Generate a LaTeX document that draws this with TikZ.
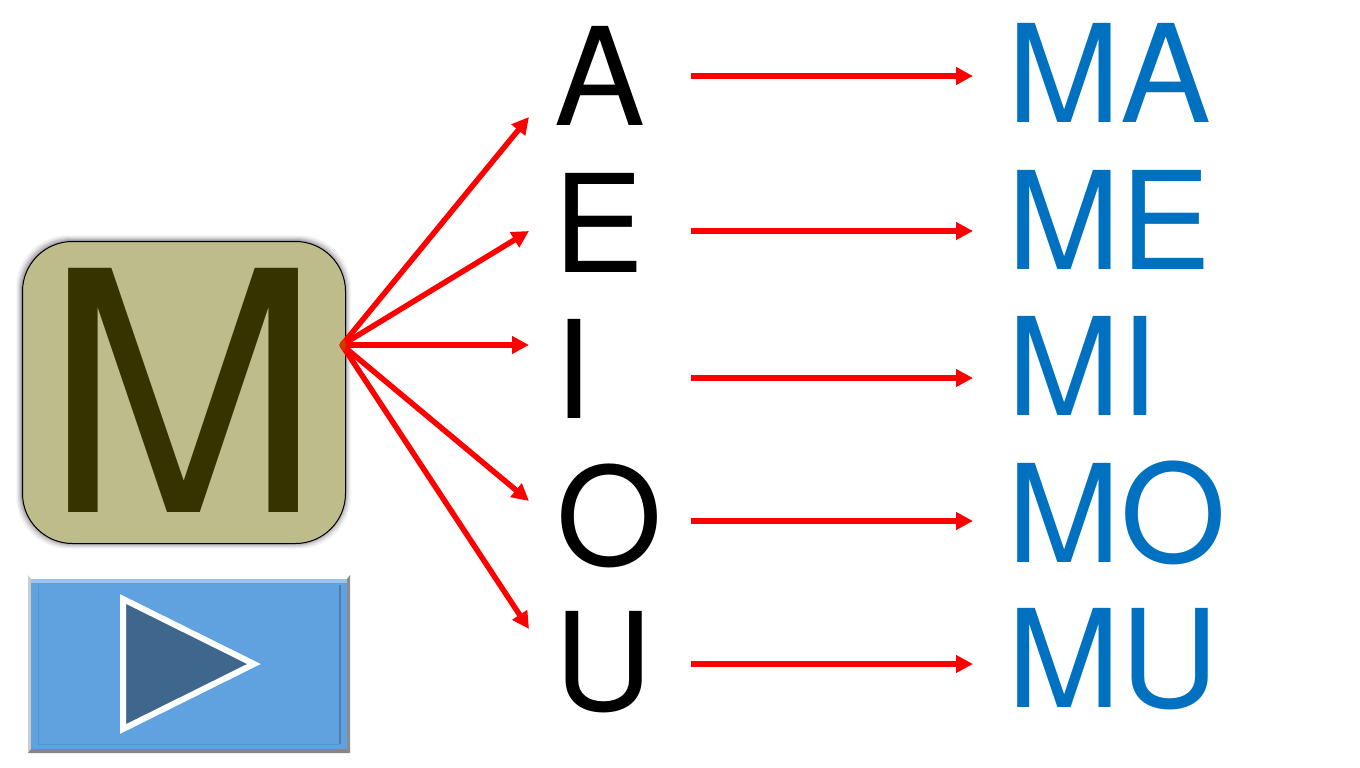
\documentclass[tikz,border=0pt]{standalone}
\usepackage{fontspec}
\setmainfont{TeX Gyre Heros}
\usetikzlibrary{arrows.meta}
\definecolor{boxfill}{HTML}{BDBC8A}
\definecolor{boxtext}{HTML}{363300}
\definecolor{btnfill}{HTML}{60A2E0}
\definecolor{btndark}{HTML}{3F678D}
\definecolor{vowelblue}{HTML}{0070C0}
\definecolor{hubcol}{HTML}{C84000}
\definecolor{shadowcol}{HTML}{302838}
\tikzset{
  x=1pt,y=-1pt,
  txt/.style={anchor=base west,inner sep=0pt,outer sep=0pt},
  vowel/.style={txt,text=black,font=\fontsize{136}{136}\selectfont},
  syll/.style={txt,text=vowelblue,font=\fontsize{136}{136}\selectfont},
  arr/.style={draw=red,line width=5.5pt,-{Triangle[length=17pt,width=17pt]}},
}
\begin{document}
\begin{tikzpicture}
\useasboundingbox (0,0) rectangle (1360,768);
% box shadow
\foreach \d/\o in {6/0.04,5/0.06,4/0.08,3/0.10,2/0.13,1/0.16}{
  \fill[shadowcol,opacity=\o,rounded corners=52pt] (22-\d,241-\d) rectangle (345+\d,543+\d);
}
\node[draw=black,line width=1pt,fill=boxfill,rounded corners=50pt,minimum width=323pt,minimum height=302pt,inner sep=0pt,anchor=north west] (box) at (22,241) {};
\node[txt,text=boxtext,font=\fontsize{335}{335}\selectfont] (bigm) at (43,512) {M};
% button
\fill[white] (28,575) -- (350,575) -- (347,579) -- (31,579) -- cycle;
\fill[gray!40] (28,575) -- (31,579) -- (31,749) -- (28,753) -- cycle;
\fill[gray!90] (350,575) -- (350,753) -- (347,749) -- (347,579) -- cycle;
\fill[gray!95] (28,753) -- (350,753) -- (347,749) -- (31,749) -- cycle;
\fill[btnfill] (31,579) rectangle (347,749);
\fill[white!35!btnfill] (31,579) rectangle (347,583);
\draw[line width=1pt,btndark!25!btnfill] (38,585) -- (38,744) -- (340,744);
\draw[line width=1.5pt,btndark!60!btnfill] (340,744) -- (340,585);
\node[inner sep=0pt,minimum size=0pt] (btn) at (189,664) {};
\draw[draw=white,fill=btndark,line width=6pt,miter limit=10] (123,599) -- (254,664) -- (123,729) -- cycle;
% hub
\coordinate (hub) at (342,345);
% vowels
\node[vowel] (A) at (554,125) {A};
\node[vowel] (E) at (553.5,272) {E};
\node[vowel] (I) at (554,418) {I};
\node[vowel] (O) at (556,565) {O};
\node[vowel] (U) at (554,710) {U};
\node[syll] (MA) at (1007,122) {MA};
\node[syll] (ME) at (1007,269) {ME};
\node[syll] (MI) at (1007,415) {MI};
\node[syll] (MO) at (1007,562) {MO};
\node[syll] (MU) at (1007,707) {MU};
% free ends
\coordinate (a1) at (529,117);
\coordinate (e1) at (529,231);
\coordinate (i1) at (529,345);
\coordinate (o1) at (529,501);
\coordinate (u1) at (529,629);
\foreach \e in {a1,e1,i1,o1,u1}{ \draw[arr] (hub) -- (\e); }
\fill[hubcol] (339,345) -- (344,339) -- (346,345) -- (344,351) -- cycle;
\foreach \y/\n in {76/a,231/e,378/i,521/o,664/u}{
  \coordinate (\n s) at (691,\y);
  \coordinate (\n t) at (973,\y);
  \draw[arr] (\n s) -- (\n t);
}
\end{tikzpicture}
\end{document}
